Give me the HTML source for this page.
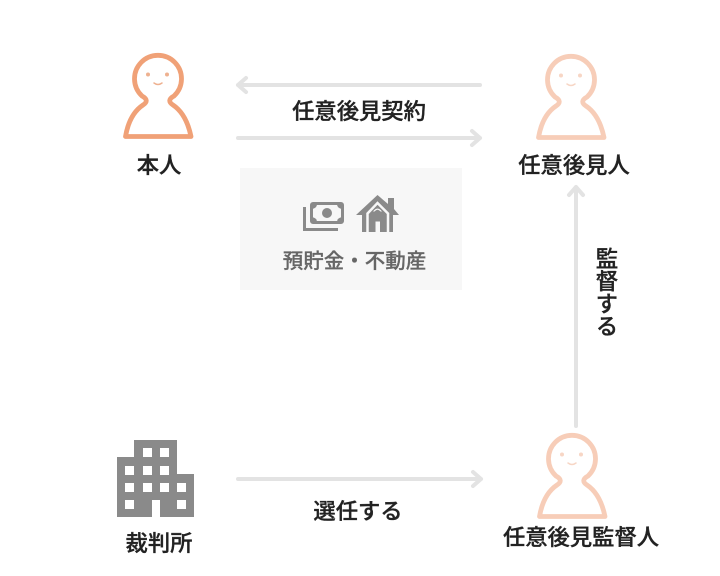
<!DOCTYPE html>
<html lang="ja">
<head>
<meta charset="utf-8">
<style>
html,body{margin:0;padding:0;background:#fff;}
body{width:720px;height:576px;overflow:hidden;position:relative;}
svg{position:absolute;left:0;top:0;filter:blur(.35px);}
text{font-family:"Liberation Sans","Noto Sans CJK JP",sans-serif;font-size:22.300px;font-weight:500;fill:#222;stroke:#222;stroke-width:.35px;text-anchor:middle;}
.v{position:absolute;left:593px;top:247px;writing-mode:vertical-rl;font-family:"Liberation Sans","Noto Sans CJK JP",sans-serif;font-size:22.500px;font-weight:500;color:#222;line-height:24px;-webkit-text-stroke:.35px #222;filter:blur(.35px);}
</style>
</head>
<body>
<svg width="720" height="576" viewBox="0 0 720 576" xmlns="http://www.w3.org/2000/svg">
  <rect x="240" y="168" width="222" height="122" fill="#f7f7f7"/>

  <!-- connectors -->
  <g fill="none" stroke="#e3e3e3" stroke-width="4" stroke-linecap="round" stroke-linejoin="round">
    <path d="M480 85H238M246 78L238 85L246 92"/>
    <path d="M238 138H480M472 131L480 138L472 145"/>
    <path d="M576 426V187M569 195L576 187L583 195"/>
    <path d="M238 479H481M473 472L481 479L473 486"/>
  </g>

  <!-- person 1 -->
  <g>
    <path d="M125.500 136.500H191C188 122 182 111 173 105C168.500 102 168.500 99 174 96A23.500 23.500 0 1 0 142 96C147.500 99 147.500 102 143 105C134 111 128 122 125.500 136.500Z" fill="#fff" stroke="#f0a177" stroke-width="4.800" stroke-linejoin="round"/>
    <circle cx="148" cy="74.500" r="2" fill="#eeb190"/>
    <circle cx="167" cy="74.500" r="2" fill="#eeb190"/>
    <path d="M154 83Q158 86 162 83" fill="none" stroke="#eeb190" stroke-width="1.500" stroke-linecap="round"/>
  </g>

  <!-- person 2 -->
  <g transform="translate(413 1)">
    <path d="M125.500 136.500H191C188 122 182 111 173 105C168.500 102 168.500 99 174 96A23.500 23.500 0 1 0 142 96C147.500 99 147.500 102 143 105C134 111 128 122 125.500 136.500Z" fill="#fff" stroke="#f7cdb8" stroke-width="4.800" stroke-linejoin="round"/>
    <circle cx="148" cy="74.500" r="2" fill="#f7d6c5"/>
    <circle cx="167" cy="74.500" r="2" fill="#f7d6c5"/>
    <path d="M154 83Q158 86 162 83" fill="none" stroke="#f7d6c5" stroke-width="1.500" stroke-linecap="round"/>
  </g>

  <!-- person 3 -->
  <g transform="translate(414 380)">
    <path d="M125.500 136.500H191C188 122 182 111 173 105C168.500 102 168.500 99 174 96A23.500 23.500 0 1 0 142 96C147.500 99 147.500 102 143 105C134 111 128 122 125.500 136.500Z" fill="#fff" stroke="#f7cdb8" stroke-width="4.800" stroke-linejoin="round"/>
    <circle cx="148" cy="74.500" r="2" fill="#f7d6c5"/>
    <circle cx="167" cy="74.500" r="2" fill="#f7d6c5"/>
    <path d="M154 83Q158 86 162 83" fill="none" stroke="#f7d6c5" stroke-width="1.500" stroke-linecap="round"/>
  </g>

  <!-- building -->
  <path d="M134 440H177V474H194V517H160V500H152V517H117V457H134Z" fill="#8a8a8a"/>
  <g fill="#fff">
    <rect x="143" y="448" width="9" height="9"/><rect x="160" y="448" width="9" height="9"/>
    <rect x="125" y="466" width="9" height="9"/><rect x="143" y="466" width="9" height="9"/><rect x="160" y="466" width="9" height="9"/>
    <rect x="125" y="483" width="9" height="9"/><rect x="143" y="483" width="9" height="9"/><rect x="160" y="483" width="9" height="9"/><rect x="177" y="483" width="9" height="9"/>
    <rect x="125" y="500" width="9" height="9"/><rect x="177" y="500" width="9" height="9"/>
  </g>

  <!-- money icon -->
  <g fill="none" stroke="#8a8a8a">
    <path d="M304.500 207V229.500H338" stroke-width="3"/>
    <rect x="311.500" y="203.500" width="31" height="19" rx="1.500" stroke-width="3"/>
  </g>
  <path d="M312 204h5q0 4-5 5zM342 204h-5q0 4 5 5zM312 222h5q0-4-5-5zM342 222h-5q0-4 5-5z" fill="#8a8a8a"/>
  <circle cx="327" cy="213" r="5" fill="#8a8a8a"/>

  <!-- house icon -->
  <path d="M377.500 195L388 204V198H394V209L399 215H393V232H362V215H356Z" fill="#8a8a8a"/>
  <path d="M367.500 232V213.500L377.500 203L388 213.500V232" fill="none" stroke="#f7f7f7" stroke-width="2.500"/>
  <path d="M375.500 232V221.500H380V232Z" fill="#f7f7f7"/>
  <path d="M373 211.500Q377.500 205.500 382 211.500Z" fill="#f7f7f7"/>
  <path d="M374.500 211.500Q377.500 208 380.500 211.500Z" fill="#8a8a8a"/>

  <!-- labels -->
  <text x="359" y="119">任意後見契約</text>
  <text x="159" y="173">本人</text>
  <text x="574" y="173">任意後見人</text>
  <text x="354.500" y="268" style="font-size:20.500px;fill:#666;stroke:#666;stroke-width:.25px">預貯金・不動産</text>
  <text x="358" y="519">選任する</text>
  <text x="159" y="551">裁判所</text>
  <text x="581" y="545">任意後見監督人</text>
</svg>
<div class="v">監督する</div>
</body>
</html>
